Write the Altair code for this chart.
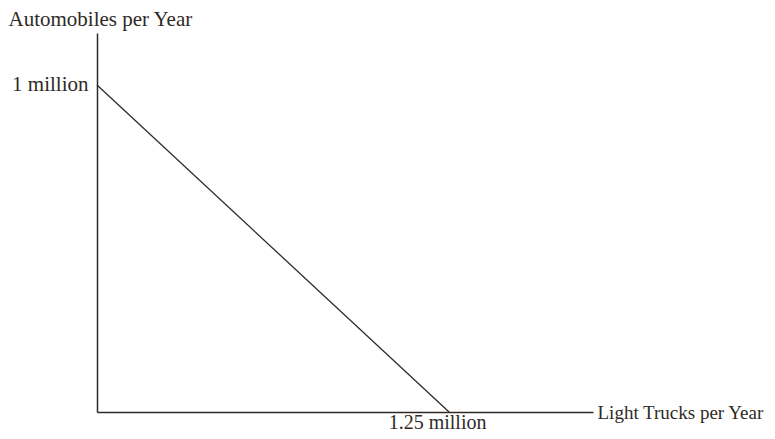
import altair as alt
import pandas as pd

# Production possibilities frontier endpoints (millions)
trucks = [0.0, 1.25]        # light trucks per year (millions)
autos = [1.0, 0.0]          # automobiles per year (millions)
x_ticks = [1.25]
x_tick_labels = ["1.25 million"]
y_ticks = [1.0]
y_tick_labels = ["1 million"]
x_title = "Light Trucks per Year"
y_title = "Automobiles per Year"

df = pd.DataFrame({"trucks": trucks, "autos": autos})

INK = "#2f2a25"
FONT = "Liberation Serif"
FS = 21

x_enc = alt.X(
    "trucks:Q",
    scale=alt.Scale(domain=[0, 1.761], nice=False, zero=True),
    axis=alt.Axis(
        values=x_ticks,
        labelExpr="'" + x_tick_labels[0] + "'",
        ticks=False,
        grid=False,
        domainColor=INK,
        domainWidth=1.5,
        labelFont=FONT,
        labelFontSize=20,
        labelColor=INK,
        labelBaseline="alphabetic",
        labelPadding=16,
        labelOffset=-12,
        title=x_title,
        titleFont=FONT,
        titleFontSize=19,
        titleFontWeight="normal",
        titleColor=INK,
        titleAngle=0,
        titleAlign="left",
        titleBaseline="middle",
        titleX=500,
        titleY=0,
    ),
)
y_enc = alt.Y(
    "autos:Q",
    scale=alt.Scale(domain=[0, 1.159], nice=False, zero=True),
    axis=alt.Axis(
        values=y_ticks,
        labelExpr="'" + y_tick_labels[0] + "'",
        ticks=False,
        grid=False,
        domainColor=INK,
        domainWidth=1.5,
        labelFont=FONT,
        labelFontSize=FS,
        labelColor=INK,
        labelPadding=9,
        title=y_title,
        titleFont=FONT,
        titleFontSize=FS,
        titleFontWeight="normal",
        titleColor=INK,
        titleAngle=0,
        titleAlign="left",
        titleBaseline="alphabetic",
        titleX=-89,
        titleY=-8,
    ),
)

chart = (
    alt.Chart(df)
    .mark_line(color=INK, strokeWidth=1.3)
    .encode(x=x_enc, y=y_enc)
    .properties(
        width=496,
        height=379,
        autosize=alt.AutoSizeParams(type="none"),
        padding={"left": 89, "top": 25, "right": 174, "bottom": 19},
        background="white",
    )
    .configure_view(stroke=None)
)

chart.save("out.html", embed_options={"renderer": "svg", "actions": False})
